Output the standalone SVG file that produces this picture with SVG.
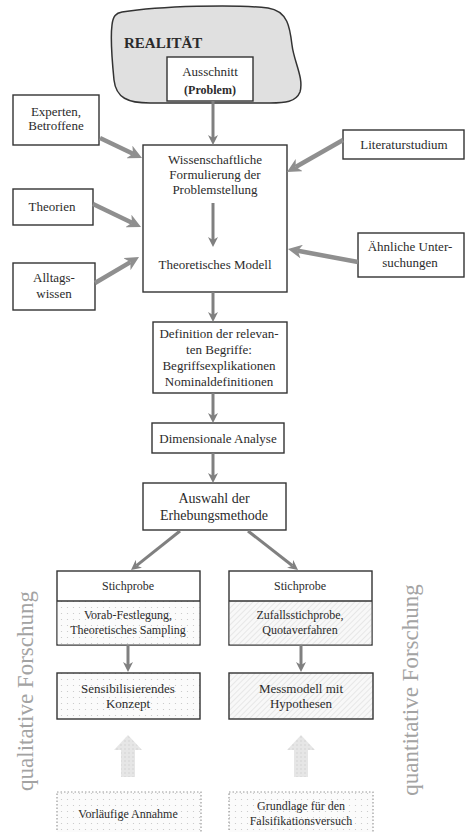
<svg xmlns="http://www.w3.org/2000/svg" width="466" height="832" viewBox="0 0 466 832" font-family="'Liberation Serif', 'Times New Roman', serif">
  <style>
    text { font-family: "Liberation Serif", "Times New Roman", serif; fill: #2b2b2b; text-anchor: middle; }
    .t13 { font-size: 13px; }
    .t12 { font-size: 12px; }
    .t14 { font-size: 14px; }
    .box { fill: #ffffff; stroke: #333333; stroke-width: 1.4; }
    .side { font-size: 23px; fill: #a3a3a3; }
    .thin { stroke: #808080; stroke-width: 3; fill: none; marker-end: url(#ah); }
    .thick { stroke: #8f8f8f; stroke-width: 4.5; fill: none; marker-end: url(#ahb); }
  </style>
  <defs>
    <marker id="ah" viewBox="0 0 10 10" refX="3" refY="5" markerWidth="10" markerHeight="10" markerUnits="userSpaceOnUse" orient="auto">
      <path d="M0,0 L10,5 L0,10 L3,5 Z" fill="#808080"/>
    </marker>
    <marker id="ahb" viewBox="0 0 14 14" refX="4" refY="7" markerWidth="14" markerHeight="14" markerUnits="userSpaceOnUse" orient="auto">
      <path d="M0,0 L14,7 L0,14 L4,7 Z" fill="#8f8f8f"/>
    </marker>
    <pattern id="dots" width="6" height="6" patternUnits="userSpaceOnUse">
      <rect width="6" height="6" fill="#fbfbfb"/>
      <circle cx="1.5" cy="1.5" r="0.6" fill="#c4c4c4"/>
    </pattern>
    <pattern id="hatch" width="4" height="4" patternUnits="userSpaceOnUse" patternTransform="rotate(45)">
      <rect width="4" height="4" fill="#f8f8f8"/>
      <line x1="0" y1="0" x2="0" y2="4" stroke="#d6d6d6" stroke-width="1"/>
    </pattern>
    <pattern id="lightdots" width="4" height="4" patternUnits="userSpaceOnUse">
      <rect width="4" height="4" fill="#e6e6e6"/>
      <circle cx="1" cy="1" r="0.7" fill="#cfcfcf"/>
    </pattern>
  </defs>

  <!-- Reality cloud with the selected problem -->
  <g id="realitaet">
    <path d="M122,12 C160,6 235,4 268,8 C288,11 290,28 292,45 C294,62 304,78 300,92 C296,102 285,103 270,103 L150,103 C128,103 116,98 114,80 C112,60 110,40 112,25 C113,16 116,13 122,12 Z" fill="#e0e0e0" stroke="#333333" stroke-width="1.5"/>
    <text x="124" y="48" style="font-size:15px;font-weight:bold;text-anchor:start">REALITÄT</text>
  </g>
  <g id="ausschnitt">
    <rect class="box" x="167" y="57" width="86" height="44"/>
    <text class="t13" x="210" y="76">Ausschnitt</text>
    <text x="210" y="94" style="font-size:12px;font-weight:bold">(Problem)</text>
  </g>

  <!-- Sources feeding the problem formulation -->
  <g id="experten">
    <rect class="box" x="13" y="95" width="86" height="50"/>
    <text class="t13" x="56" y="116">Experten,</text>
    <text class="t13" x="56" y="130">Betroffene</text>
  </g>
  <g id="literatur">
    <rect class="box" x="343" y="130" width="121" height="29"/>
    <text class="t13" x="404" y="149">Literaturstudium</text>
  </g>
  <g id="theorien">
    <rect class="box" x="13" y="189" width="80" height="36"/>
    <text class="t13" x="52" y="211">Theorien</text>
  </g>
  <g id="aehnliche">
    <rect class="box" x="358" y="233" width="106" height="44"/>
    <text class="t13" x="410" y="251">Ähnliche Unter-</text>
    <text class="t13" x="410" y="267">suchungen</text>
  </g>
  <g id="alltagswissen">
    <rect class="box" x="13" y="263" width="82" height="47"/>
    <text class="t13" x="54" y="282">Alltags-</text>
    <text class="t13" x="54" y="298">wissen</text>
  </g>

  <!-- Central chain -->
  <g id="formulierung">
    <rect class="box" x="143" y="145" width="144" height="147"/>
    <text class="t13" x="215" y="164">Wissenschaftliche</text>
    <text class="t13" x="215" y="179">Formulierung der</text>
    <text class="t13" x="215" y="194">Problemstellung</text>
    <text class="t13" x="215" y="269">Theoretisches Modell</text>
  </g>
  <g id="definition">
    <rect class="box" x="153" y="322" width="134" height="71"/>
    <text class="t13" x="219" y="338">Definition der relevan-</text>
    <text class="t13" x="219" y="354">ten Begriffe:</text>
    <text class="t13" x="219" y="370">Begriffsexplikationen</text>
    <text class="t13" x="219" y="386">Nominaldefinitionen</text>
  </g>
  <g id="dimensional">
    <rect class="box" x="152" y="423" width="132" height="30"/>
    <text class="t13" x="218" y="443">Dimensionale Analyse</text>
  </g>
  <g id="auswahl">
    <rect class="box" x="143" y="483" width="143" height="47"/>
    <text class="t14" x="214" y="503">Auswahl der</text>
    <text class="t14" x="214" y="520">Erhebungsmethode</text>
  </g>

  <!-- Qualitative branch -->
  <g id="stichprobe-qual">
    <rect class="box" x="57" y="571" width="143" height="74"/>
    <rect x="57.7" y="601" width="141.6" height="43.3" fill="url(#dots)"/>
    <line x1="57" y1="601" x2="200" y2="601" stroke="#333333" stroke-width="1.4"/>
    <text class="t12" x="128" y="590">Stichprobe</text>
    <text class="t12" x="128" y="619">Vorab-Festlegung,</text>
    <text class="t12" x="128" y="634">Theoretisches Sampling</text>
  </g>
  <g id="konzept">
    <rect x="57" y="673" width="143" height="46" fill="url(#dots)" stroke="#333333" stroke-width="1.4"/>
    <text class="t13" x="128" y="693">Sensibilisierendes</text>
    <text class="t13" x="128" y="708">Konzept</text>
  </g>
  <g id="annahme">
    <rect x="57" y="792" width="144" height="50" fill="url(#dots)" stroke="#9a9a9a" stroke-width="1.2" stroke-dasharray="1.5 2"/>
    <text class="t12" x="128" y="818">Vorläufige Annahme</text>
  </g>

  <!-- Quantitative branch -->
  <g id="stichprobe-quant">
    <rect class="box" x="229" y="571" width="143" height="74"/>
    <rect x="229.7" y="601" width="141.6" height="43.3" fill="url(#hatch)"/>
    <line x1="229" y1="601" x2="372" y2="601" stroke="#333333" stroke-width="1.4"/>
    <text class="t12" x="300" y="590">Stichprobe</text>
    <text class="t12" x="300" y="619">Zufallsstichprobe,</text>
    <text class="t12" x="300" y="634">Quotaverfahren</text>
  </g>
  <g id="messmodell">
    <rect x="229" y="673" width="144" height="46" fill="url(#hatch)" stroke="#333333" stroke-width="1.4"/>
    <text class="t13" x="301" y="693">Messmodell mit</text>
    <text class="t13" x="301" y="708">Hypothesen</text>
  </g>
  <g id="falsifikation">
    <rect x="229" y="792" width="144" height="50" fill="url(#dots)" stroke="#9a9a9a" stroke-width="1.2" stroke-dasharray="1.5 2"/>
    <text class="t12" x="301" y="810">Grundlage für den</text>
    <text class="t12" x="301" y="825">Falsifikationsversuch</text>
  </g>

  <!-- Side labels -->
  <g id="label-qualitativ">
    <text class="side" transform="translate(33,691) rotate(-90)">qualitative Forschung</text>
  </g>
  <g id="label-quantitativ">
    <text class="side" transform="translate(418,690) rotate(-90)">quantitative Forschung</text>
  </g>

  <!-- Connectors -->
  <g id="connectors">
    <line class="thin" x1="213" y1="101" x2="213" y2="138"/>
    <line class="thick" x1="100" y1="138" x2="133" y2="153.7"/>
    <line class="thick" x1="343" y1="140" x2="295.7" y2="167"/>
    <line class="thick" x1="93" y1="204" x2="132" y2="222.7"/>
    <line class="thick" x1="95" y1="283" x2="130.4" y2="262.1"/>
    <line class="thick" x1="358" y1="262" x2="297.8" y2="250.8"/>
    <line class="thin" x1="213" y1="203" x2="213" y2="240"/>
    <line class="thin" x1="213" y1="292" x2="213" y2="315"/>
    <line class="thin" x1="213" y1="393" x2="213" y2="416"/>
    <line class="thin" x1="213" y1="453" x2="213" y2="476"/>
    <line class="thin" x1="180" y1="531" x2="136.5" y2="565.6"/>
    <line class="thin" x1="248" y1="531" x2="292.5" y2="565.7"/>
    <line class="thin" x1="128" y1="645" x2="128" y2="665"/>
    <line class="thin" x1="301" y1="645" x2="301" y2="665"/>
    <path d="M121,777 L121,750 L114,750 L128,735 L142,750 L135,750 L135,777 Z" fill="url(#lightdots)"/>
    <path d="M294,777 L294,750 L287,750 L301,735 L315,750 L308,750 L308,777 Z" fill="url(#lightdots)"/>
  </g>
</svg>
